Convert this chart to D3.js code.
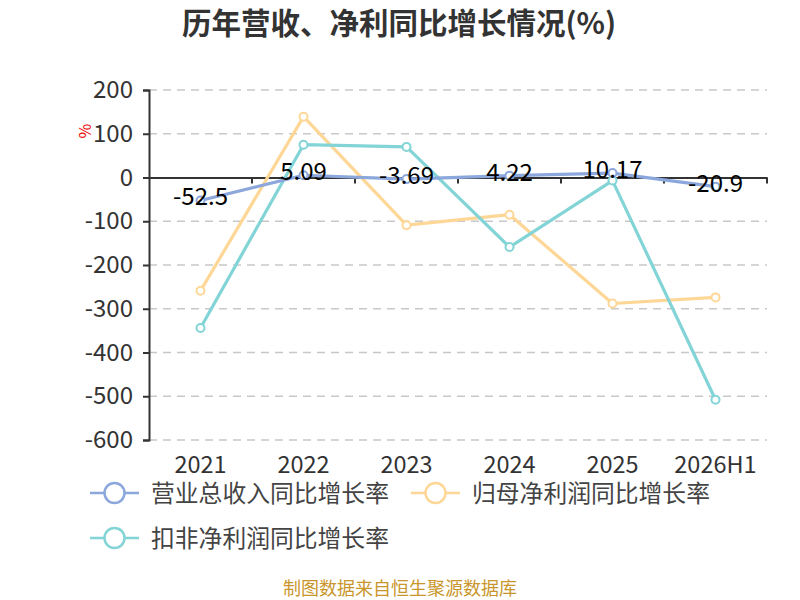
<!DOCTYPE html>
<html><head><meta charset="utf-8">
<script src="https://cdn.jsdelivr.net/npm/d3@7/dist/d3.min.js"></script>
<style>body{margin:0;background:#fff}svg{display:block}</style>
</head><body>
<svg id="c" width="800" height="600"></svg>
<script>
const categories = ["2021","2022","2023","2024","2025","2026H1"];
const revenueGrowth = [-52.5, 5.09, -3.69, 4.22, 10.17, -20.9];
const netProfitGrowth = [-259, 139, -109, -85, -288, -274];
const deductedProfitGrowth = [-344, 75, 70, -159, -7, -508];
const yTicks = [200,100,0,-100,-200,-300,-400,-500,-600];
const seriesNames = ["营业总收入同比增长率","归母净利润同比增长率","扣非净利润同比增长率"];
const colors = ["#8ba7dc","#fed796","#83d4d6"];

const font = "'Noto Sans CJK SC','Noto Sans',sans-serif";
const svg = d3.select("#c");
const x = d3.scaleBand().domain(categories).range([149,767]).padding(0);
const y = d3.scaleLinear().domain([-600,200]).range([440,90]);
const cx = d => x(d) + x.bandwidth()/2;

// title
svg.append("text").attr("x",399).attr("y",34).attr("text-anchor","middle")
  .attr("font-family",font).attr("font-weight","bold").attr("font-size",29.5).attr("fill","#333")
  .text("历年营收、净利同比增长情况(%)");

// grid
svg.append("g").selectAll("line").data(yTicks.filter(t=>t!==0)).join("line")
  .attr("x1",149).attr("x2",767).attr("y1",d=>y(d)).attr("y2",d=>y(d))
  .attr("stroke","#c8c8c8").attr("stroke-width",1.5).attr("stroke-dasharray","8,6");

// y axis
const yAxis = svg.append("g").attr("transform","translate(149,0)")
  .call(d3.axisLeft(y).tickValues(yTicks).tickSize(6).tickPadding(10).tickFormat(d=>String(d)));
yAxis.select(".domain").attr("stroke","#333").attr("stroke-width",2);
yAxis.selectAll(".tick line").attr("stroke","#333").attr("stroke-width",2);
yAxis.selectAll("text").attr("font-family",font).attr("font-size",24).attr("fill","#333");

// x axis at zero
const xAxis = svg.append("g").attr("transform",`translate(0,${y(0)})`)
  .call(d3.axisBottom(x).tickSize(0).tickFormat(""));
xAxis.select(".domain").attr("stroke","#333").attr("stroke-width",2);
svg.append("g").selectAll("line").data(categories).join("line")
  .attr("x1",d=>x(d)+x.bandwidth()).attr("x2",d=>x(d)+x.bandwidth())
  .attr("y1",y(0)).attr("y2",y(0)+6).attr("stroke","#333").attr("stroke-width",2);
svg.append("g").selectAll("text").data(categories).join("text")
  .attr("x",cx).attr("y",473).attr("text-anchor","middle")
  .attr("font-family",font).attr("font-size",23.5).attr("fill","#333").text(d=>d);

// unit label
svg.append("text").attr("transform","translate(91,131) rotate(-90)").attr("text-anchor","middle")
  .attr("font-family",font).attr("font-size",16).attr("fill","#e00").text("%");

// lines
const allSeries = [revenueGrowth, netProfitGrowth, deductedProfitGrowth];
const line = d3.line().x((d,i)=>cx(categories[i])).y(d=>y(d));
[1,2,0].forEach(si=>{
  const vals = allSeries[si];
  svg.append("path").attr("d",line(vals)).attr("fill","none")
    .attr("stroke",colors[si]).attr("stroke-width",3.2).attr("stroke-linejoin","round");
  svg.append("g").selectAll("circle").data(vals).join("circle")
    .attr("cx",(d,i)=>cx(categories[i])).attr("cy",d=>y(d)).attr("r",4)
    .attr("fill","#fff").attr("stroke",colors[si]).attr("stroke-width",2);
});

// revenue labels
svg.append("g").selectAll("text").data(revenueGrowth).join("text")
  .attr("x",(d,i)=>cx(categories[i])).attr("y",d=>y(d)+5)
  .attr("text-anchor","middle").attr("font-family",font).attr("font-size",24).attr("fill","#000")
  .text(d=>String(d));

// legend
const legendPos = [[90,493],[411,493],[90,538]];
seriesNames.forEach((n,i)=>{
  const [lx,ly] = legendPos[i];
  const g = svg.append("g");
  g.append("line").attr("x1",lx).attr("x2",lx+49).attr("y1",ly).attr("y2",ly)
    .attr("stroke",colors[i]).attr("stroke-width",2.5);
  g.append("circle").attr("cx",lx+24.5).attr("cy",ly).attr("r",10)
    .attr("fill","#fff").attr("stroke",colors[i]).attr("stroke-width",2.5);
  g.append("text").attr("x",lx+61).attr("y",ly+8.5).attr("font-family",font)
    .attr("font-size",23.8).attr("fill","#444").text(n);
});

// footer
svg.append("text").attr("x",400).attr("y",595).attr("text-anchor","middle")
  .attr("font-family",font).attr("font-size",18).attr("fill","#c9962b")
  .text("制图数据来自恒生聚源数据库");
</script>
</body></html>
